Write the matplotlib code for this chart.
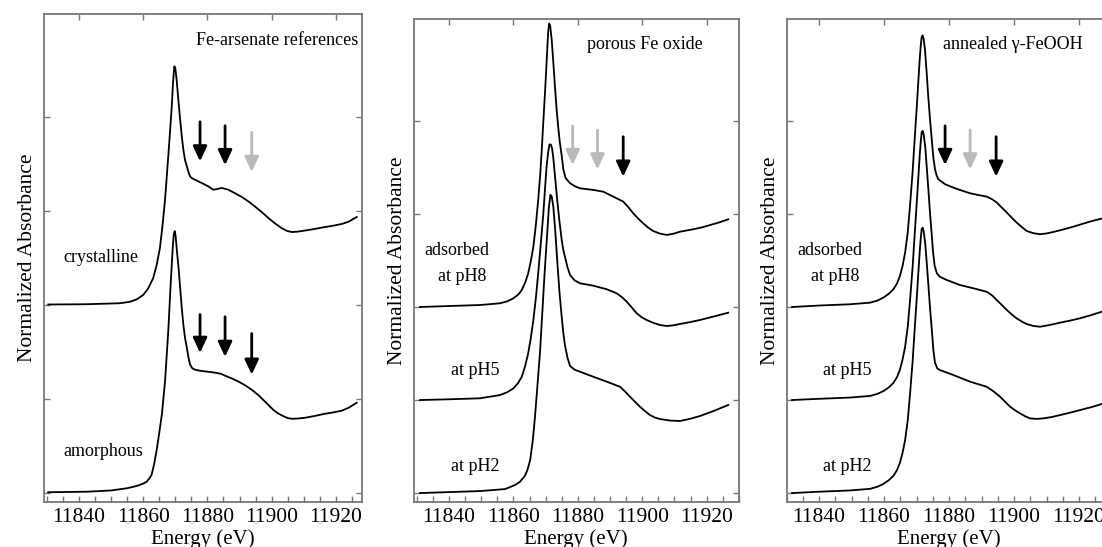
import matplotlib
matplotlib.use('Agg')
import matplotlib.pyplot as plt
from matplotlib.ticker import MultipleLocator

plt.rcParams['font.family'] = ['Liberation Serif', 'DejaVu Serif']

# ---- panel 1: Fe-arsenate references ----
cryst_E = [11830.4, 11842.0, 11852.8, 11855.9, 11858.0, 11860.0, 11861.5, 11863.1, 11864.2, 11865.2,
           11866.0, 11866.8, 11867.8, 11868.4, 11868.9, 11869.3, 11869.7, 11870.0, 11870.4, 11870.9,
           11871.5, 11872.0, 11872.5, 11873.0, 11873.6, 11874.1, 11874.6, 11875.3, 11876.1, 11878.2,
           11880.3, 11881.8, 11883.0, 11884.5, 11886.5, 11888.5, 11890.7, 11892.8, 11894.8, 11897.0,
           11899.0, 11901.0, 11903.1, 11904.8, 11906.3, 11908.0, 11910.4, 11913.5, 11916.6, 11919.0,
           11921.8, 11924.0, 11926.5]
cryst_A = [0.004, 0.006, 0.014, 0.026, 0.045, 0.080, 0.130, 0.214, 0.320, 0.454,
           0.630, 0.840, 1.186, 1.400, 1.586, 1.780, 1.905, 1.890, 1.800, 1.650,
           1.480, 1.350, 1.240, 1.160, 1.106, 1.060, 1.026, 1.010, 1.000, 0.974,
           0.946, 0.920, 0.925, 0.934, 0.920, 0.893, 0.862, 0.826, 0.786, 0.740,
           0.694, 0.652, 0.614, 0.591, 0.582, 0.585, 0.594, 0.607, 0.622, 0.632,
           0.646, 0.665, 0.702]
amor_E = [11830.4, 11842.4, 11850.0, 11855.0, 11858.0, 11860.0, 11861.1, 11862.0, 11862.6, 11863.4,
          11864.2, 11865.0, 11865.8, 11866.8, 11867.8, 11868.6, 11869.2, 11869.5, 11869.8, 11870.1,
          11870.4, 11871.0, 11871.5, 11872.0, 11872.5, 11873.0, 11873.6, 11874.1, 11874.6, 11875.3,
          11876.1, 11877.5, 11879.3, 11881.0, 11882.9, 11884.3, 11885.5, 11887.5, 11889.6, 11891.7,
          11893.8, 11896.0, 11897.9, 11900.5, 11902.0, 11903.5, 11905.0, 11906.3, 11908.0, 11910.4,
          11913.5, 11916.6, 11919.0, 11921.8, 11924.0, 11926.5]
amor_A = [0.006, 0.010, 0.020, 0.038, 0.056, 0.075, 0.090, 0.120, 0.144, 0.230,
          0.344, 0.480, 0.624, 0.890, 1.290, 1.690, 1.958, 2.060, 2.090, 2.050,
          1.958, 1.800, 1.638, 1.480, 1.344, 1.240, 1.158, 1.080, 1.024, 0.995,
          0.984, 0.976, 0.970, 0.965, 0.958, 0.950, 0.936, 0.915, 0.890, 0.860,
          0.824, 0.778, 0.730, 0.664, 0.635, 0.615, 0.598, 0.592, 0.594, 0.600,
          0.615, 0.632, 0.642, 0.656, 0.680, 0.720]

# ---- panel 2: porous Fe oxide ----
p2_ph8_E = [11831.0, 11840.0, 11849.6, 11855.8, 11858.0, 11860.0, 11861.5, 11862.6, 11863.7, 11864.6,
            11865.4, 11866.2, 11867.0, 11867.7, 11868.3, 11868.8, 11869.3, 11869.8, 11870.2, 11870.5,
            11870.8, 11871.1, 11871.4, 11871.9, 11872.4, 11872.9, 11873.4, 11873.9, 11874.4, 11875.0,
            11875.5, 11876.2, 11877.6, 11879.0, 11880.7, 11884.8, 11887.9, 11891.0, 11894.1, 11895.7,
            11897.2, 11898.8, 11900.3, 11901.8, 11903.4, 11905.5, 11907.6, 11909.6, 11911.7, 11915.9,
            11918.5, 11921.1, 11924.0, 11926.7]
p2_ph8_A = [0.000, 0.008, 0.016, 0.030, 0.045, 0.070, 0.100, 0.137, 0.200, 0.272,
            0.370, 0.486, 0.670, 0.863, 1.060, 1.266, 1.500, 1.723, 1.920, 2.073,
            2.220, 2.285, 2.270, 2.153, 1.970, 1.777, 1.600, 1.454, 1.330, 1.220,
            1.110, 1.040, 0.998, 0.975, 0.957, 0.944, 0.930, 0.890, 0.850, 0.805,
            0.756, 0.712, 0.675, 0.641, 0.613, 0.592, 0.581, 0.590, 0.607, 0.627,
            0.642, 0.661, 0.683, 0.707]
p2_ph5_E = [11831.0, 11840.0, 11849.6, 11855.8, 11858.0, 11860.0, 11861.4, 11862.6, 11863.6, 11864.6,
            11865.4, 11866.2, 11867.0, 11867.7, 11868.5, 11869.3, 11869.8, 11870.3, 11870.8, 11871.2,
            11871.6, 11872.0, 11872.4, 11873.0, 11873.6, 11874.3, 11875.0, 11875.5, 11876.0, 11876.8,
            11877.6, 11879.0, 11880.7, 11884.8, 11889.0, 11892.1, 11893.7, 11895.2, 11896.8, 11898.3,
            11899.8, 11901.4, 11903.5, 11905.5, 11907.6, 11909.6, 11911.7, 11914.8, 11917.9, 11922.0,
            11926.7]
p2_ph5_A = [0.000, 0.006, 0.014, 0.040, 0.062, 0.094, 0.135, 0.188, 0.270, 0.377,
            0.500, 0.645, 0.830, 1.022, 1.260, 1.506, 1.700, 1.882, 2.000, 2.060,
            2.060, 2.030, 1.950, 1.780, 1.613, 1.440, 1.290, 1.210, 1.156, 1.070,
            1.008, 0.965, 0.941, 0.922, 0.893, 0.860, 0.830, 0.793, 0.745, 0.699,
            0.668, 0.645, 0.622, 0.605, 0.597, 0.602, 0.613, 0.628, 0.645, 0.672,
            0.704]
p2_ph2_E = [11831.0, 11840.0, 11849.6, 11857.4, 11860.5, 11862.0, 11863.6, 11864.4, 11865.2, 11866.0,
            11866.7, 11867.5, 11868.3, 11868.9, 11869.5, 11870.0, 11870.5, 11871.0, 11871.5, 11871.9,
            11872.4, 11873.0, 11873.6, 11874.3, 11875.0, 11875.5, 11876.0, 11876.8, 11877.6, 11879.0,
            11880.7, 11884.8, 11889.0, 11893.1, 11894.7, 11896.2, 11897.8, 11899.3, 11900.9, 11902.4,
            11904.0, 11905.5, 11908.5, 11911.7, 11914.8, 11917.9, 11922.0, 11926.7]
p2_ph2_A = [0.000, 0.008, 0.016, 0.032, 0.065, 0.090, 0.140, 0.190, 0.266, 0.420,
            0.615, 0.880, 1.153, 1.420, 1.691, 1.900, 2.094, 2.300, 2.405, 2.390,
            2.309, 2.110, 1.879, 1.620, 1.420, 1.290, 1.194, 1.090, 1.024, 0.995,
            0.978, 0.938, 0.898, 0.857, 0.818, 0.777, 0.735, 0.696, 0.660, 0.629,
            0.608, 0.597, 0.585, 0.581, 0.598, 0.621, 0.660, 0.710]

# ---- panel 3: annealed gamma-FeOOH ----
p3_ph8_E = [11831.7, 11840.0, 11849.5, 11855.7, 11858.0, 11859.8, 11861.4, 11862.9, 11864.0, 11864.9,
            11865.7, 11866.5, 11867.3, 11868.0, 11868.8, 11869.5, 11870.1, 11870.6, 11871.0, 11871.3,
            11871.6, 11871.9, 11872.2, 11872.6, 11873.1, 11873.6, 11874.2, 11874.7, 11875.2, 11875.7,
            11876.2, 11876.7, 11878.8, 11881.3, 11884.0, 11886.5, 11889.0, 11891.6, 11893.2, 11894.7,
            11896.3, 11897.8, 11899.3, 11900.8, 11902.4, 11903.9, 11906.0, 11908.0, 11910.0, 11912.1,
            11914.7, 11917.2, 11919.8, 11922.4, 11925.0, 11927.0, 11929.0]
p3_ph8_A = [0.000, 0.012, 0.022, 0.035, 0.052, 0.076, 0.105, 0.143, 0.190, 0.250,
            0.330, 0.439, 0.600, 0.815, 1.090, 1.379, 1.620, 1.836, 2.000, 2.105,
            2.180, 2.190, 2.160, 2.078, 1.900, 1.702, 1.500, 1.350, 1.200, 1.110,
            1.060, 1.030, 0.990, 0.963, 0.938, 0.917, 0.903, 0.890, 0.870, 0.842,
            0.800, 0.761, 0.720, 0.681, 0.645, 0.613, 0.595, 0.587, 0.593, 0.605,
            0.622, 0.640, 0.660, 0.681, 0.700, 0.713, 0.726]
p3_ph5_E = [11831.7, 11840.0, 11849.5, 11855.7, 11858.0, 11859.8, 11861.4, 11862.9, 11864.0, 11864.9,
            11865.7, 11866.5, 11867.3, 11868.0, 11868.8, 11869.5, 11870.1, 11870.6, 11871.0, 11871.3,
            11871.6, 11871.9, 11872.2, 11872.7, 11873.2, 11873.7, 11874.2, 11874.7, 11875.1, 11875.6,
            11876.3, 11877.2, 11879.3, 11883.4, 11887.5, 11891.6, 11893.2, 11894.7, 11896.3, 11897.8,
            11899.3, 11900.8, 11902.4, 11903.9, 11906.0, 11908.0, 11911.0, 11914.2, 11917.2, 11920.3,
            11923.5, 11927.0, 11929.0]
p3_ph5_A = [0.000, 0.010, 0.020, 0.033, 0.050, 0.072, 0.100, 0.138, 0.185, 0.245,
            0.325, 0.430, 0.590, 0.800, 1.070, 1.360, 1.600, 1.810, 1.980, 2.080,
            2.160, 2.170, 2.140, 2.040, 1.860, 1.680, 1.490, 1.330, 1.190, 1.080,
            1.020, 0.994, 0.968, 0.927, 0.901, 0.873, 0.845, 0.806, 0.765, 0.726,
            0.690, 0.659, 0.633, 0.613, 0.597, 0.591, 0.605, 0.624, 0.640, 0.659,
            0.683, 0.712, 0.722]
p3_ph2_E = [11831.7, 11840.0, 11849.5, 11855.7, 11858.0, 11859.8, 11861.4, 11862.9, 11864.0, 11864.9,
            11865.7, 11866.5, 11867.3, 11868.0, 11868.8, 11869.5, 11870.1, 11870.6, 11871.0, 11871.3,
            11871.6, 11871.9, 11872.2, 11872.7, 11873.2, 11873.7, 11874.2, 11874.7, 11875.2, 11875.7,
            11876.4, 11877.2, 11881.3, 11886.5, 11891.6, 11893.7, 11895.7, 11897.3, 11898.8, 11900.3,
            11901.8, 11903.4, 11904.9, 11907.0, 11909.0, 11911.6, 11914.2, 11917.2, 11920.3, 11923.7,
            11927.0, 11929.0]
p3_ph2_A = [0.000, 0.011, 0.021, 0.034, 0.051, 0.074, 0.102, 0.139, 0.185, 0.244,
            0.323, 0.428, 0.585, 0.795, 1.060, 1.345, 1.580, 1.790, 1.950, 2.052,
            2.130, 2.140, 2.110, 2.010, 1.840, 1.660, 1.480, 1.320, 1.150, 1.050,
            1.005, 0.992, 0.952, 0.898, 0.857, 0.820, 0.777, 0.735, 0.696, 0.668,
            0.643, 0.620, 0.602, 0.598, 0.602, 0.613, 0.629, 0.648, 0.669, 0.692,
            0.718, 0.727]

# vertical offsets of the stacked spectra
offsets_p1 = [1.5, 0.0]
offsets_p23 = [1.5, 0.75, 0.0]

# arrows: energy, top, tip, colour
arr1_E = [11877.7, 11885.5, 11893.8]
arr1_top = [2.962, 2.930, 2.878]
arr1_tip = [2.646, 2.616, 2.562]
arr1_col = ['k', 'k', 'grey']
arr1b_top = [1.424, 1.406, 1.272]
arr1b_tip = [1.118, 1.086, 0.944]
arr1b_col = ['k', 'k', 'k']
arr2_E = [11878.4, 11886.1, 11894.1]
arr2_col = ['grey', 'grey', 'k']
arr3_E = [11878.8, 11886.5, 11894.5]
arr3_col = ['k', 'grey', 'k']
arr23_top = [2.960, 2.927, 2.873]
arr23_tip = [2.645, 2.610, 2.551]

GREY = '#b9b9b9'
SPINE = '#777777'

W, H = 1102, 547
fig = plt.figure(figsize=(W / 100, H / 100), dpi=100)


def make_axes(left_px, top_px, right_px, xlim):
    ax = fig.add_axes([left_px / W, (H - 502) / H, (right_px - left_px) / W, (502 - top_px) / H])
    ax.set_xlim(*xlim)
    ax.set_ylim(-0.072, 3.822)
    for s in ax.spines.values():
        s.set_color(SPINE)
        s.set_linewidth(1.3)
    ax.xaxis.set_major_locator(MultipleLocator(20))
    ax.xaxis.set_minor_locator(MultipleLocator(5))
    ax.set_yticks([0, 0.75, 1.5, 2.25, 3.0])
    ax.tick_params(axis='x', which='both', direction='in', top=True, bottom=True,
                   length=4, width=1, color=SPINE, labelsize=15.5, pad=4)
    ax.tick_params(axis='x', which='minor', top=False)
    ax.tick_params(axis='y', which='both', direction='in', left=True, right=True,
                   length=4, width=1, color=SPINE, labelleft=False)
    ax.set_xlabel('Energy (eV)', fontsize=15, labelpad=2)
    ax.set_ylabel('Normalized Absorbance', fontsize=15.5, labelpad=5)
    return ax


def arrows(ax, E, top, tip, cols):
    for e, t, b, c in zip(E, top, tip, cols):
        ax.annotate('', xy=(e, b), xytext=(e, t),
                    arrowprops=dict(arrowstyle='-|>,head_length=0.9,head_width=0.42',
                                    lw=2.0, color=GREY if c == 'grey' else 'k',
                                    shrinkA=0, shrinkB=0))


def labels(ax, items):
    for x, y, s, ha in items:
        ax.text(x, y, s, fontsize=13, ha=ha, va='center')


# panel 1
ax1 = make_axes(43.7, 14, 361.5, (11829, 11928))
ax1.plot(cryst_E, [a + offsets_p1[0] for a in cryst_A], color='k', lw=1.3)
ax1.plot(amor_E, [a + offsets_p1[1] for a in amor_A], color='k', lw=1.3)
arrows(ax1, arr1_E, arr1_top, arr1_tip, arr1_col)
arrows(ax1, arr1_E, arr1b_top, arr1b_tip, arr1b_col)
labels(ax1, [(11926.9, 3.607, 'Fe-arsenate references', 'right'),
             (11835.0, 1.875, 'crystalline', 'left'),
             (11835.0, 0.327, 'amorphous', 'left')])

# panel 2
ax2 = make_axes(413.6, 19, 738.8, (11829, 11930))
for E, A, off in zip([p2_ph8_E, p2_ph5_E, p2_ph2_E], [p2_ph8_A, p2_ph5_A, p2_ph2_A], offsets_p23):
    ax2.plot(E, [a + off for a in A], color='k', lw=1.3)
arrows(ax2, arr2_E, arr23_top, arr23_tip, arr2_col)
labels(ax2, [(11882.9, 3.613, 'porous Fe oxide', 'left'),
             (11832.2, 1.952, 'adsorbed', 'left'),
             (11836.6, 1.750, 'at pH8', 'left'),
             (11840.6, 0.992, 'at pH5', 'left'),
             (11840.6, 0.218, 'at pH2', 'left')])

# panel 3 (runs past the right edge of the picture)
ax3 = make_axes(786.5, 19, 1111.5, (11830, 11930))
for E, A, off in zip([p3_ph8_E, p3_ph5_E, p3_ph2_E], [p3_ph8_A, p3_ph5_A, p3_ph2_A], offsets_p23):
    ax3.plot(E, [a + off for a in A], color='k', lw=1.3)
arrows(ax3, arr3_E, arr23_top, arr23_tip, arr3_col)
labels(ax3, [(11878.2, 3.613, 'annealed \u03b3-FeOOH', 'left'),
             (11833.2, 1.952, 'adsorbed', 'left'),
             (11837.5, 1.750, 'at pH8', 'left'),
             (11841.2, 0.992, 'at pH5', 'left'),
             (11841.2, 0.218, 'at pH2', 'left')])

fig.savefig('out.png', dpi=100)
